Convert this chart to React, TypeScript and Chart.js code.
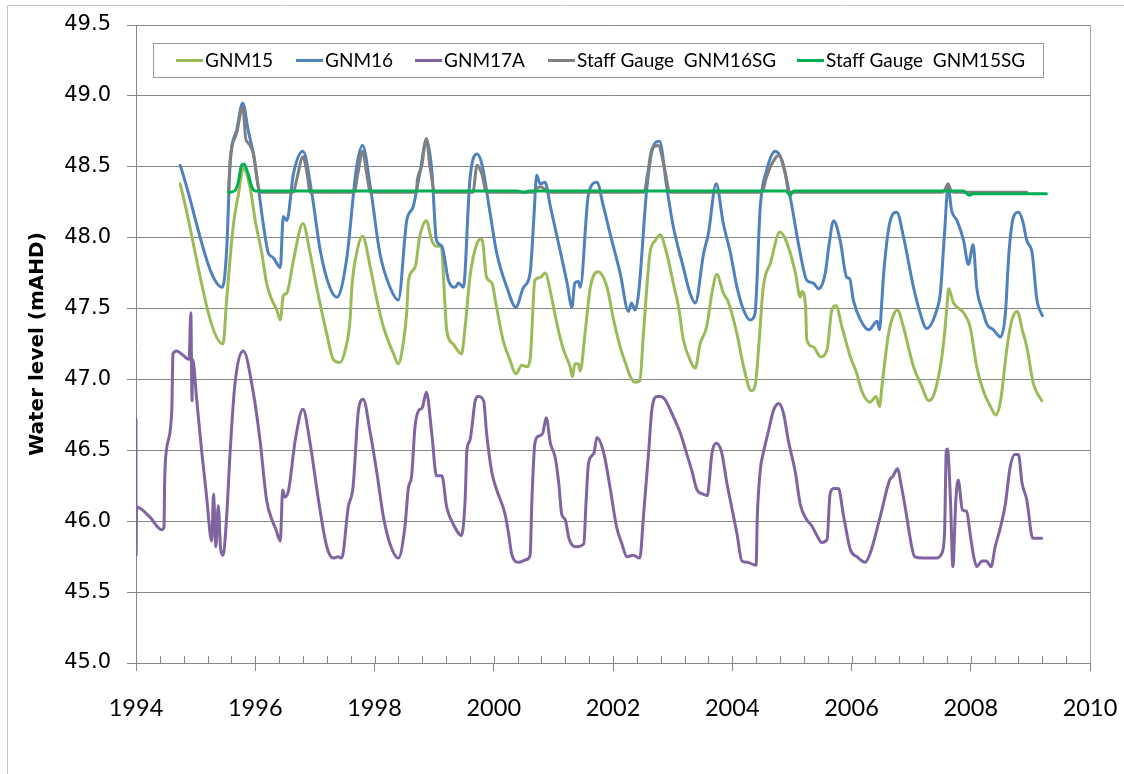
import React, { useEffect, useRef } from "react";
import { Chart, registerables } from "chart.js";

Chart.register(...registerables);

// Bore and staff gauge water levels (mAHD) against decimal year.
const gnm15Years = [
  1994.74, 1995.46, 1995.52, 1995.63, 1995.72, 1995.8, 1995.91, 1996.0, 1996.11, 1996.19, 1996.28, 1996.36,
  1996.42, 1996.47, 1996.53, 1996.64, 1996.8, 1996.92, 1997.03, 1997.2, 1997.31, 1997.42, 1997.51, 1997.59,
  1997.62, 1997.7, 1997.8, 1997.93, 1998.04, 1998.15, 1998.32, 1998.4, 1998.48, 1998.54, 1998.57, 1998.68,
  1998.76, 1998.87, 1998.96, 1999.04, 1999.12, 1999.18, 1999.21, 1999.32, 1999.46, 1999.52, 1999.6, 1999.72,
  1999.8, 1999.88, 1999.97, 2000.03, 2000.16, 2000.27, 2000.37, 2000.47, 2000.55, 2000.61, 2000.69, 2000.78,
  2000.86, 2000.97, 2001.06, 2001.17, 2001.28, 2001.32, 2001.36, 2001.42, 2001.45, 2001.53, 2001.62, 2001.75,
  2001.9, 2002.01, 2002.12, 2002.23, 2002.29, 2002.37, 2002.45, 2002.51, 2002.62, 2002.71, 2002.79, 2002.9,
  2003.01, 2003.1, 2003.18, 2003.29, 2003.38, 2003.46, 2003.57, 2003.66, 2003.74, 2003.85, 2003.94, 2004.08,
  2004.19, 2004.32, 2004.39, 2004.44, 2004.52, 2004.64, 2004.8, 2004.92, 2005.06, 2005.14, 2005.17, 2005.23,
  2005.25, 2005.36, 2005.48, 2005.59, 2005.67, 2005.74, 2005.84, 2005.98, 2006.09, 2006.17, 2006.31, 2006.41,
  2006.47, 2006.51, 2006.62, 2006.7, 2006.77, 2006.87, 2007.04, 2007.18, 2007.29, 2007.37, 2007.49, 2007.55,
  2007.6, 2007.63, 2007.71, 2007.88, 2007.99, 2008.1, 2008.21, 2008.33, 2008.42, 2008.5, 2008.61, 2008.69,
  2008.78, 2008.87, 2008.94, 2009.05, 2009.19,
];
const gnm15Levels = [
  48.38, 47.25, 47.56, 48.08, 48.31, 48.49, 48.36, 48.12, 47.89, 47.68, 47.56, 47.49,
  47.42, 47.59, 47.61, 47.84, 48.1, 47.89, 47.65, 47.32, 47.14, 47.12, 47.21, 47.42,
  47.65, 47.89, 48.01, 47.79, 47.56, 47.37, 47.18, 47.11, 47.25, 47.47, 47.7, 47.79,
  48.01, 48.12, 47.98, 47.94, 47.94, 47.54, 47.35, 47.25, 47.18, 47.37, 47.72, 47.96,
  47.99, 47.72, 47.68, 47.55, 47.27, 47.14, 47.04, 47.1, 47.09, 47.14, 47.7, 47.72,
  47.75, 47.58, 47.39, 47.21, 47.09, 47.02, 47.11, 47.11, 47.06, 47.32, 47.65, 47.76,
  47.65, 47.42, 47.23, 47.09, 47.02, 46.98, 46.99, 47.32, 47.89, 47.98, 48.02, 47.89,
  47.68, 47.51, 47.28, 47.14, 47.08, 47.25, 47.37, 47.61, 47.74, 47.61, 47.54, 47.32,
  47.09, 46.92, 46.97, 47.21, 47.65, 47.82, 48.04, 47.96, 47.75, 47.58, 47.62, 47.51,
  47.28, 47.23, 47.16, 47.21, 47.49, 47.52, 47.37, 47.16, 47.04, 46.92, 46.84, 46.88,
  46.81, 46.95, 47.32, 47.45, 47.49, 47.37, 47.09, 46.95, 46.85, 46.88, 47.09, 47.28,
  47.51, 47.64, 47.54, 47.47, 47.37, 47.09, 46.92, 46.81, 46.75, 46.85, 47.23, 47.42,
  47.48, 47.34, 47.23, 46.97, 46.85,
];

const gnm16Years = [
  1994.74, 1995.45, 1995.52, 1995.58, 1995.69, 1995.79, 1995.88, 1995.97, 1996.05, 1996.14, 1996.22, 1996.3,
  1996.42, 1996.47, 1996.53, 1996.64, 1996.8, 1996.95, 1997.09, 1997.25, 1997.37, 1997.53, 1997.7, 1997.8,
  1997.93, 1998.09, 1998.26, 1998.4, 1998.54, 1998.65, 1998.77, 1998.87, 1998.96, 1999.04, 1999.13, 1999.24,
  1999.35, 1999.41, 1999.49, 1999.6, 1999.72, 1999.8, 1999.94, 2000.05, 2000.22, 2000.37, 2000.5, 2000.61,
  2000.67, 2000.72, 2000.78, 2000.86, 2000.95, 2001.06, 2001.23, 2001.31, 2001.36, 2001.42, 2001.45, 2001.59,
  2001.73, 2001.84, 2001.95, 2002.12, 2002.26, 2002.31, 2002.37, 2002.43, 2002.57, 2002.68, 2002.78, 2002.9,
  2003.01, 2003.18, 2003.29, 2003.38, 2003.52, 2003.6, 2003.73, 2003.85, 2003.97, 2004.08, 2004.19, 2004.3,
  2004.38, 2004.47, 2004.58, 2004.72, 2004.83, 2004.97, 2005.14, 2005.25, 2005.36, 2005.45, 2005.56, 2005.62,
  2005.7, 2005.81, 2005.92, 2005.97, 2006.03, 2006.15, 2006.29, 2006.43, 2006.47, 2006.51, 2006.54, 2006.65,
  2006.76, 2006.87, 2007.04, 2007.15, 2007.26, 2007.43, 2007.49, 2007.56, 2007.62, 2007.68, 2007.77, 2007.88,
  2007.96, 2008.04, 2008.1, 2008.21, 2008.27, 2008.38, 2008.5, 2008.58, 2008.64, 2008.72, 2008.8, 2008.87,
  2008.94, 2009.03, 2009.11, 2009.2,
];
const gnm16Levels = [
  48.51, 47.65, 47.91, 48.53, 48.76, 48.95, 48.76, 48.59, 48.36, 48.08, 47.89, 47.86,
  47.79, 48.15, 48.12, 48.45, 48.61, 48.31, 47.91, 47.65, 47.58, 47.84, 48.5, 48.65,
  48.36, 47.89, 47.65, 47.56, 48.12, 48.22, 48.48, 48.69, 48.48, 47.98, 47.94, 47.7,
  47.65, 47.68, 47.65, 48.41, 48.59, 48.52, 48.17, 47.89, 47.65, 47.51, 47.65, 47.75,
  48.12, 48.44, 48.38, 48.39, 48.22, 48.01, 47.68, 47.51, 47.68, 47.69, 47.65, 48.31,
  48.39, 48.22, 48.03, 47.75, 47.48, 47.54, 47.49, 47.61, 48.36, 48.65, 48.68, 48.36,
  48.08, 47.79, 47.61, 47.54, 47.89, 48.03, 48.38, 48.1, 47.89, 47.65, 47.49, 47.42,
  47.46, 48.22, 48.48, 48.61, 48.55, 48.29, 47.89, 47.7, 47.68, 47.64, 47.75, 47.94,
  48.12, 47.98, 47.72, 47.71, 47.56, 47.42, 47.35, 47.41, 47.35, 47.56, 47.75, 48.12,
  48.18, 48.01, 47.65, 47.47, 47.36, 47.49, 47.61, 48.03, 48.36, 48.19, 48.12, 47.98,
  47.81, 47.95, 47.65, 47.47, 47.39, 47.35, 47.3, 47.46, 47.89, 48.15, 48.18, 48.12,
  47.98, 47.89, 47.56, 47.45,
];

const gnm17aYears = [
  1994.0, 1994.001, 1994.01, 1994.23, 1994.43, 1994.47, 1994.48, 1994.51, 1994.6, 1994.62, 1994.68, 1994.79,
  1994.89, 1994.92, 1994.94, 1994.95, 1995.02, 1995.1, 1995.18, 1995.27, 1995.3, 1995.34, 1995.38, 1995.42,
  1995.46, 1995.52, 1995.58, 1995.66, 1995.8, 1995.97, 1996.08, 1996.19, 1996.28, 1996.34, 1996.42, 1996.46,
  1996.5, 1996.56, 1996.67, 1996.8, 1996.92, 1997.06, 1997.2, 1997.31, 1997.39, 1997.45, 1997.56, 1997.64,
  1997.73, 1997.81, 1997.93, 1998.04, 1998.15, 1998.26, 1998.4, 1998.51, 1998.57, 1998.62, 1998.68, 1998.74,
  1998.8, 1998.87, 1998.96, 1999.04, 1999.13, 1999.21, 1999.32, 1999.46, 1999.52, 1999.55, 1999.6, 1999.69,
  1999.74, 1999.83, 1999.88, 1999.97, 2000.05, 2000.19, 2000.25, 2000.3, 2000.42, 2000.55, 2000.61, 2000.64,
  2000.69, 2000.75, 2000.82, 2000.88, 2000.95, 2001.03, 2001.09, 2001.14, 2001.2, 2001.26, 2001.39, 2001.51,
  2001.55, 2001.59, 2001.68, 2001.73, 2001.84, 2001.95, 2002.06, 2002.15, 2002.23, 2002.34, 2002.45, 2002.51,
  2002.6, 2002.65, 2002.74, 2002.8, 2002.87, 2003.01, 2003.13, 2003.24, 2003.32, 2003.41, 2003.52, 2003.58,
  2003.66, 2003.73, 2003.82, 2003.91, 2003.99, 2004.08, 2004.16, 2004.25, 2004.4, 2004.42, 2004.47, 2004.52,
  2004.61, 2004.69, 2004.78, 2004.86, 2004.94, 2005.06, 2005.14, 2005.25, 2005.33, 2005.42, 2005.5, 2005.59,
  2005.64, 2005.7, 2005.78, 2005.87, 2005.98, 2006.09, 2006.23, 2006.31, 2006.48, 2006.64, 2006.7, 2006.77,
  2006.84, 2006.92, 2007.01, 2007.06, 2007.2, 2007.43, 2007.51, 2007.56, 2007.59, 2007.61, 2007.66, 2007.7,
  2007.75, 2007.79, 2007.86, 2007.93, 2007.99, 2008.05, 2008.1, 2008.19, 2008.26, 2008.34, 2008.41, 2008.5,
  2008.58, 2008.66, 2008.74, 2008.8, 2008.86, 2008.94, 2009.04, 2009.19,
];
const gnm17aLevels = [
  46.72, 45.76, 46.1, 46.03, 45.94, 45.96, 46.27, 46.5, 46.78, 47.18, 47.2, 47.17,
  47.14, 47.47, 46.85, 47.14, 46.85, 46.5, 46.19, 45.86, 46.19, 45.82, 46.11, 45.8,
  45.76, 46.03, 46.5, 46.97, 47.2, 46.9, 46.57, 46.15, 46.01, 45.95, 45.86, 46.22,
  46.17, 46.22, 46.57, 46.79, 46.55, 46.15, 45.82, 45.74, 45.75, 45.74, 46.1, 46.24,
  46.78, 46.86, 46.62, 46.34, 46.03, 45.84, 45.74, 45.96, 46.24, 46.31, 46.67, 46.78,
  46.8, 46.91, 46.62, 46.32, 46.32, 46.1, 45.98, 45.9, 46.15, 46.5, 46.57, 46.85,
  46.88, 46.85, 46.62, 46.34, 46.22, 46.05, 45.91, 45.77, 45.71, 45.73, 45.76, 46.15,
  46.55, 46.6, 46.62, 46.73, 46.55, 46.45, 46.27, 46.05, 46.01, 45.88, 45.82, 45.84,
  46.15, 46.41, 46.48, 46.59, 46.49, 46.24, 45.96, 45.84, 45.75, 45.76, 45.74, 46.03,
  46.5, 46.78, 46.88, 46.88, 46.86, 46.74, 46.62, 46.47, 46.36, 46.22, 46.19, 46.18,
  46.48, 46.55, 46.49, 46.27, 46.1, 45.91, 45.72, 45.71, 45.69, 46.03, 46.36, 46.48,
  46.64, 46.78, 46.83, 46.76, 46.57, 46.34, 46.12, 46.01, 45.97, 45.9, 45.85, 45.87,
  46.19, 46.23, 46.23, 46.03, 45.8, 45.75, 45.71, 45.77, 46.03, 46.29, 46.32, 46.37,
  46.24, 46.05, 45.82, 45.75, 45.74, 45.74, 45.77, 45.91, 46.5, 46.51, 46.15, 45.68,
  46.15, 46.29, 46.08, 46.07, 45.91, 45.75, 45.68, 45.72, 45.72, 45.68, 45.82, 45.96,
  46.12, 46.38, 46.47, 46.47, 46.27, 46.15, 45.88, 45.88,
];

const gnm16sgYears = [
  1995.55, 1995.58, 1995.69, 1995.79, 1995.84, 1995.88, 1995.97, 1996.05, 1996.11, 1996.64, 1996.7, 1996.8,
  1996.87, 1996.92, 1997.66, 1997.72, 1997.8, 1997.87, 1997.93, 1998.7, 1998.72, 1998.79, 1998.87, 1998.93,
  1999.02, 1999.65, 1999.72, 1999.8, 1999.88, 2000.66, 2000.7, 2000.78, 2000.86, 2000.9, 2002.52, 2002.58,
  2002.65, 2002.76, 2002.85, 2002.96, 2004.5, 2004.57, 2004.64, 2004.78, 2004.89, 2004.95, 2007.53, 2007.58,
  2007.62, 2007.67, 2007.72, 2008.94,
];
const gnm16sgLevels = [
  48.32, 48.55, 48.74, 48.92, 48.7, 48.67, 48.59, 48.36, 48.32, 48.32, 48.42, 48.57,
  48.45, 48.32, 48.32, 48.45, 48.61, 48.45, 48.32, 48.32, 48.41, 48.5, 48.7, 48.5,
  48.32, 48.32, 48.51, 48.45, 48.32, 48.32, 48.34, 48.36, 48.34, 48.32, 48.32, 48.45,
  48.62, 48.65, 48.52, 48.32, 48.32, 48.42, 48.5, 48.58, 48.45, 48.32, 48.32, 48.35,
  48.38, 48.33, 48.32, 48.32,
];

const gnm15sgYears = [
  1995.55, 1995.65, 1995.71, 1995.77, 1995.81, 1995.88, 1995.94, 1996.0, 2000.4, 2000.5, 2000.6, 2004.9,
  2004.97, 2005.03, 2007.88, 2007.97, 2008.05, 2009.27,
];
const gnm15sgLevels = [
  48.32, 48.33, 48.38, 48.51, 48.52, 48.45, 48.36, 48.33, 48.33, 48.32, 48.33, 48.33,
  48.3, 48.33, 48.33, 48.3, 48.31, 48.31,
];

const xTickYears = [1994, 1996, 1998, 2000, 2002, 2004, 2006, 2008, 2010];
const yTickLevels = [45.0, 45.5, 46.0, 46.5, 47.0, 47.5, 48.0, 48.5, 49.0, 49.5];
const minorTickStep = 0.4;

const seriesNames = ["GNM15", "GNM16", "GNM17A", "Staff Gauge  GNM16SG", "Staff Gauge  GNM15SG"];
const seriesColors = ["#9BBB59", "#4F81BD", "#8064A2", "#808080", "#00B050"];
const seriesYears = [gnm15Years, gnm16Years, gnm17aYears, gnm16sgYears, gnm15sgYears];
const seriesLevels = [gnm15Levels, gnm16Levels, gnm17aLevels, gnm16sgLevels, gnm15sgLevels];

const AXIS_GREY = "#868686";

// White page, outer chart frame, extra tick marks and plot border.
const frameAndTicks = {
  id: "frameAndTicks",
  beforeDraw(chart: any) {
    const { ctx, width, height } = chart;
    ctx.save();
    ctx.fillStyle = "#ffffff";
    ctx.fillRect(0, 0, width, height);
    ctx.strokeStyle = "#c4c4c4";
    ctx.lineWidth = 1;
    ctx.beginPath();
    ctx.moveTo(7.5, height);
    ctx.lineTo(7.5, 5.5);
    ctx.lineTo(width, 5.5);
    ctx.stroke();
    ctx.restore();
  },
  afterDraw(chart: any) {
    const { ctx, chartArea: a, scales } = chart;
    const x = scales.x;
    ctx.save();
    ctx.strokeStyle = AXIS_GREY;
    ctx.lineWidth = 1;
    ctx.beginPath();
    const n = Math.round((x.max - x.min) / minorTickStep);
    for (let i = 1; i < n; i++) {
      const px = Math.round(x.getPixelForValue(x.min + i * minorTickStep)) + 0.5;
      ctx.moveTo(px, a.bottom - 7);
      ctx.lineTo(px, a.bottom);
    }
    ctx.stroke();
    // plot area right edge
    ctx.strokeStyle = "#a6a6a6";
    ctx.beginPath();
    ctx.moveTo(Math.round(a.right) + 0.5, a.top);
    ctx.lineTo(Math.round(a.right) + 0.5, a.bottom);
    ctx.stroke();
    ctx.restore();
  },
};

// Axis title on the left.
const yTitle = {
  id: "yTitle",
  afterDraw(chart: any) {
    const { ctx, chartArea: a } = chart;
    ctx.save();
    ctx.translate(38, (a.top + a.bottom) / 2);
    ctx.rotate(-Math.PI / 2);
    ctx.font = "bold 20px 'DejaVu Sans'";
    ctx.fillStyle = "#000000";
    ctx.textAlign = "center";
    ctx.textBaseline = "middle";
    ctx.fillText("Water level (mAHD)", 0, 0);
    ctx.restore();
  },
};

// Boxed legend inside the top of the plot.
const boxedLegend = {
  id: "boxedLegend",
  afterDraw(chart: any) {
    const { ctx } = chart;
    const itemStarts = [176, 296, 415, 548, 797];
    ctx.save();
    ctx.fillStyle = "#ffffff";
    ctx.fillRect(153.5, 43.5, 890, 34);
    ctx.strokeStyle = "#9a9a9a";
    ctx.lineWidth = 1;
    ctx.strokeRect(153.5, 43.5, 890, 34);
    ctx.font = "19px Lato";
    ctx.textBaseline = "middle";
    ctx.textAlign = "left";
    seriesNames.forEach((name, i) => {
      const sx = itemStarts[i];
      ctx.strokeStyle = seriesColors[i];
      ctx.lineWidth = 3;
      ctx.beginPath();
      ctx.moveTo(sx, 60.5);
      ctx.lineTo(sx + 27, 60.5);
      ctx.stroke();
      ctx.fillStyle = "#000000";
      ctx.fillText(name, sx + 29, 61);
    });
    ctx.restore();
  },
};

export default function App() {
  const canvasRef = useRef<HTMLCanvasElement | null>(null);

  useEffect(() => {
    const canvas = canvasRef.current;
    if (!canvas) return;
    const datasets = seriesNames.map((name, i) => ({
      label: name,
      data: seriesYears[i].map((yr, k) => ({ x: yr, y: seriesLevels[i][k] })),
      borderColor: seriesColors[i],
      backgroundColor: seriesColors[i],
      borderWidth: 3,
      pointRadius: 0,
      fill: false,
      cubicInterpolationMode: "monotone" as const,
      borderCapStyle: "round" as const,
      borderJoinStyle: "round" as const,
      order: seriesNames.length - i,
    }));

    const chart = new Chart(canvas, {
      type: "line",
      data: { datasets },
      options: {
        responsive: false,
        animation: false,
        devicePixelRatio: 1,
        layout: { padding: { top: 25, right: 34, left: 0, bottom: 0 } },
        plugins: { legend: { display: false }, tooltip: { enabled: false } },
        scales: {
          x: {
            type: "linear",
            min: 1994,
            max: 2010,
            afterBuildTicks: (s: any) => {
              s.ticks = xTickYears.map((v) => ({ value: v }));
            },
            afterFit: (s: any) => {
              s.height = 111;
              s.paddingLeft = 0;
              s.paddingRight = 0;
            },
            ticks: {
              callback: (v: any) => String(v),
              font: { family: "Lato", size: 23.5 },
              color: "#000000",
              padding: 23,
              maxRotation: 0,
              autoSkip: false,
            },
            grid: { drawOnChartArea: false, drawTicks: true, tickLength: 8, color: AXIS_GREY },
            border: { color: AXIS_GREY, width: 1 },
          },
          y: {
            type: "linear",
            min: 45,
            max: 49.5,
            afterBuildTicks: (s: any) => {
              s.ticks = yTickLevels.map((v) => ({ value: v }));
            },
            afterFit: (s: any) => {
              s.width = 136;
              s.paddingTop = 0;
              s.paddingBottom = 0;
            },
            ticks: {
              callback: (v: any) => Number(v).toFixed(1),
              font: { family: "DejaVu Sans", size: 21 },
              color: "#000000",
              padding: 16,
            },
            grid: { color: AXIS_GREY, drawTicks: true, tickLength: 9 },
            border: { color: AXIS_GREY, width: 1 },
          },
        },
      },
      plugins: [frameAndTicks, yTitle, boxedLegend],
    });
    return () => chart.destroy();
  }, []);

  return (
    <div style={{ position: "absolute", left: 0, top: 0, width: 1124, height: 774 }}>
      <canvas ref={canvasRef} width={1124} height={774} style={{ display: "block" }} />
    </div>
  );
}
